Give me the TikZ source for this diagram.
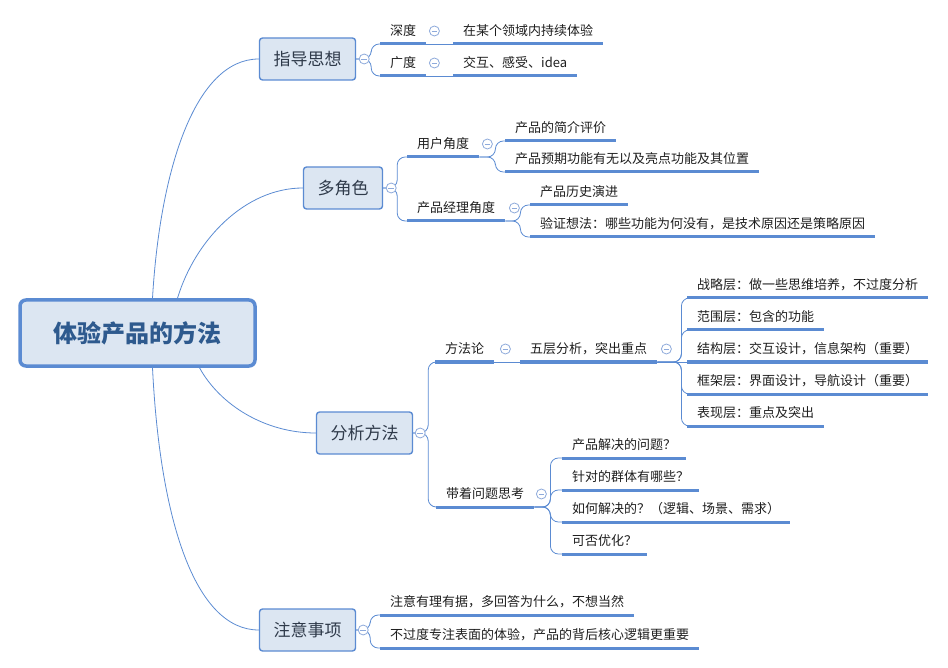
\documentclass[tikz,border=0pt]{standalone}
\usepackage{fontspec}
\setmainfont{Noto Sans CJK SC}
\definecolor{linecol}{HTML}{5B8BD2}
\definecolor{boxfill}{HTML}{DCE6F2}
\definecolor{knobcol}{HTML}{8EAADB}
\definecolor{topictext}{HTML}{2F3A4A}
\definecolor{roottext}{HTML}{2E5A8E}
\definecolor{leaftext}{HTML}{1E1E1E}
\begin{document}
\begin{tikzpicture}[x=1pt,y=-1pt,
    link/.style={draw=linecol,line width=0.8pt},
    fork/.style={rounded corners=8pt,to path={-- ++(#1,0) |- (\tikztotarget)}},
    uline/.style={draw=linecol,line width=3pt},
    mainbox/.style={draw=linecol,fill=boxfill,line width=3.5pt,rounded corners=6pt,
                    minimum width=235pt,minimum height=66pt,text=roottext,
                    font=\fontsize{24}{28}\selectfont\bfseries},
    topic/.style={draw=linecol,fill=boxfill,line width=1.4pt,rounded corners=3pt,
                  inner xsep=14pt,minimum height=42pt,text=topictext,
                  font=\fontsize{17}{20}\selectfont},
    leaf/.style={anchor=south west,inner xsep=10pt,inner ysep=5pt,text height=11pt,
                 text depth=3pt,text=leaftext,font=\fontsize{13}{15}\selectfont,
                 append after command={(\tikzlastnode.south west) edge[uline] (\tikzlastnode.south east)}},
    knob/.style={circle,draw=knobcol,fill=white,line width=0.8pt,inner sep=0pt,minimum size=10pt,
                 path picture={\draw[knobcol,line width=0.8pt]
                   ([xshift=-2.8pt]path picture bounding box.center) -- ([xshift=2.8pt]path picture bounding box.center);}}]
  \useasboundingbox (0,0) rectangle (948,668);

  \node[mainbox] (root)     at (137.5,333) {体验产品的方法};
  \node[topic]   (guide)    at (307.5,59)  {指导思想};
  \node[topic]   (roles)    at (343,188)   {多角色};
  \node[topic]   (analysis) at (364.5,433) {分析方法};
  \node[topic]   (notes)    at (307.5,630) {注意事项};

  \node[leaf] (depth)       at (380,44)  {深度};
  \node[leaf] (depthnote)   at (453,44)  {在某个领域内持续体验};
  \node[leaf] (breadth)     at (380,76)  {广度};
  \node[leaf] (breadthnote) at (453,76)  {交互、感受、idea};

  \node[leaf] (user)  at (407,157) {用户角度};
  \node[leaf] (userA) at (505,141) {产品的简介评价};
  \node[leaf] (userB) at (505,172) {产品预期功能有无以及亮点功能及其位置};
  \node[leaf] (pm)    at (407,221) {产品经理角度};
  \node[leaf] (pmA)   at (530,205) {产品历史演进};
  \node[leaf] (pmB)   at (530,237) {验证想法：哪些功能为何没有，是技术原因还是策略原因};

  \node[leaf] (method) at (435,362) {方法论};
  \node[leaf] (layers) at (520,362) {五层分析，突出重点};
  \node[leaf] (L1) at (687,298) {战略层：做一些思维培养，不过度分析};
  \node[leaf] (L2) at (687,330) {范围层：包含的功能};
  \node[leaf] (L3) at (687,362) {结构层：交互设计，信息架构（重要）};
  \node[leaf] (L4) at (687,394) {框架层：界面设计，导航设计（重要）};
  \node[leaf] (L5) at (687,426) {表现层：重点及突出};

  \node[leaf] (think) at (436,507) {带着问题思考};
  \node[leaf] (Q1) at (562,458) {产品解决的问题？};
  \node[leaf] (Q2) at (562,490) {针对的群体有哪些？};
  \node[leaf] (Q3) at (562,522) {如何解决的？（逻辑、场景、需求）};
  \node[leaf] (Q4) at (562,554) {可否优化？};

  \node[leaf] (note1) at (380,615) {注意有理有据，多回答为什么，不想当然};
  \node[leaf] (note2) at (380,648) {不过度专注表面的体验，产品的背后核心逻辑更重要};

  \draw[link] ([xshift=15pt]root.north) .. controls (160,170) and (195,59) .. (guide.west);
  \draw[link] ([xshift=40pt]root.north) .. controls (195,240) and (245,188) .. (roles.west);
  \draw[link] ([xshift=62pt]root.south) .. controls (220,405) and (265,433) .. (analysis.west);
  \draw[link] ([xshift=15pt]root.south) .. controls (160,520) and (195,630) .. (notes.west);

  \path (guide.east) edge[link,fork=15pt] (depth.south west)
                     edge[link,fork=15pt] (breadth.south west)
        (depth.south east) edge[link] (depthnote.south west)
        (breadth.south east) edge[link] (breadthnote.south west);
  \path (roles.east) edge[link,fork=14pt] (user.south west)
                     edge[link,fork=14pt] (pm.south west)
        (user.south east) edge[link,fork=16pt] (userA.south west)
                          edge[link,fork=16pt] (userB.south west)
        (pm.south east) edge[link,fork=15pt] (pmA.south west)
                        edge[link,fork=15pt] (pmB.south west);
  \path (analysis.east) edge[link,fork=15pt] (method.south west)
                        edge[link,fork=15pt] (think.south west)
        (method.south east) edge[link] (layers.south west)
        (layers.south east) edge[link,fork=24pt] (L1.south west)
                            edge[link,fork=24pt] (L2.south west)
                            edge[link] (L3.south west)
                            edge[link,fork=24pt] (L4.south west)
                            edge[link,fork=24pt] (L5.south west)
        (think.south east) edge[link,fork=16pt] (Q1.south west)
                           edge[link,fork=16pt] (Q2.south west)
                           edge[link,fork=16pt] (Q3.south west)
                           edge[link,fork=16pt] (Q4.south west);
  \path (notes.east) edge[link,fork=14pt] (note1.south west)
                     edge[link,fork=14pt] (note2.south west);

  \node[knob] (kguide)    at ([xshift=8pt]guide.east) {};
  \node[knob] (kroles)    at ([xshift=8pt]roles.east) {};
  \node[knob] (kanalysis) at ([xshift=7pt]analysis.east) {};
  \node[knob] (knotes)    at ([xshift=7pt]notes.east) {};
  \node[knob] (kdepth)    at ([xshift=8pt,yshift=13pt]depth.south east) {};
  \node[knob] (kbreadth)  at ([xshift=8pt,yshift=13pt]breadth.south east) {};
  \node[knob] (kuser)     at ([xshift=8pt,yshift=13pt]user.south east) {};
  \node[knob] (kpm)       at ([xshift=9pt,yshift=13pt]pm.south east) {};
  \node[knob] (kmethod)   at ([xshift=11pt,yshift=13pt]method.south east) {};
  \node[knob] (klayers)   at ([xshift=9pt,yshift=13pt]layers.south east) {};
  \node[knob] (kthink)    at ([xshift=7pt,yshift=13pt]think.south east) {};
\end{tikzpicture}
\end{document}
